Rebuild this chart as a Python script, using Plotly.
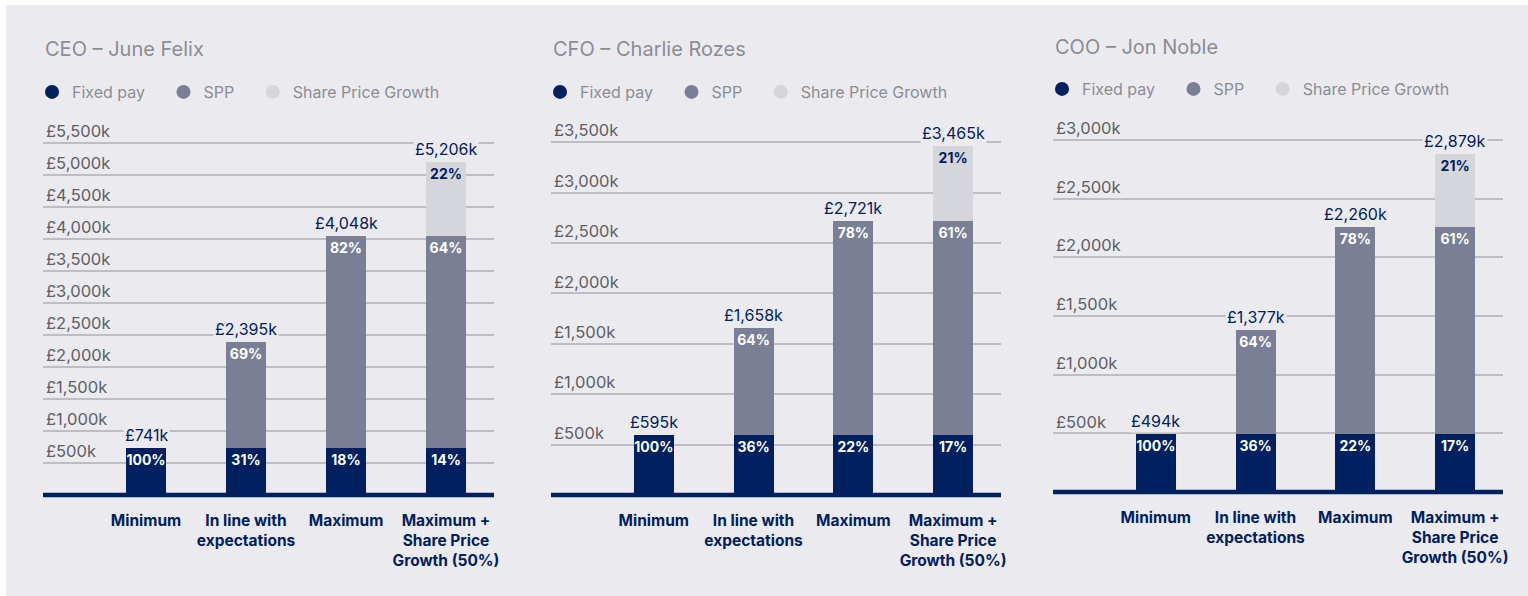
import plotly.graph_objects as go

# ---------------- data ----------------
categories = ["Minimum", "In line with<br>expectations", "Maximum", "Maximum +<br>Share Price<br>Growth (50%)"]
series_names = ["Fixed pay", "SPP", "Share Price Growth"]

ceo_title = "CEO – June Felix"
ceo_fixed = [741, 741, 741, 741]
ceo_spp = [0, 1654, 3307, 3307]
ceo_spg = [0, 0, 0, 1158]
ceo_totals = [741, 2395, 4048, 5206]
ceo_fixed_pct = ["100%", "31%", "18%", "14%"]
ceo_spp_pct = ["", "69%", "82%", "64%"]
ceo_spg_pct = ["", "", "", "22%"]
ceo_ticks = [500, 1000, 1500, 2000, 2500, 3000, 3500, 4000, 4500, 5000, 5500]

cfo_title = "CFO – Charlie Rozes"
cfo_fixed = [595, 595, 595, 595]
cfo_spp = [0, 1063, 2126, 2126]
cfo_spg = [0, 0, 0, 744]
cfo_totals = [595, 1658, 2721, 3465]
cfo_fixed_pct = ["100%", "36%", "22%", "17%"]
cfo_spp_pct = ["", "64%", "78%", "61%"]
cfo_spg_pct = ["", "", "", "21%"]
cfo_ticks = [500, 1000, 1500, 2000, 2500, 3000, 3500]

coo_title = "COO – Jon Noble"
coo_fixed = [494, 494, 494, 494]
coo_spp = [0, 883, 1766, 1766]
coo_spg = [0, 0, 0, 619]
coo_totals = [494, 1377, 2260, 2879]
coo_fixed_pct = ["100%", "36%", "22%", "17%"]
coo_spp_pct = ["", "64%", "78%", "61%"]
coo_spg_pct = ["", "", "", "21%"]
coo_ticks = [500, 1000, 1500, 2000, 2500, 3000]

# ---------------- style ----------------
W, H = 1528, 596
NAVY = "#00205F"
SPP_C = "#7B7F96"
SPG_C = "#D4D6DB"
BG = "#EBEBEF"
GRID = "#BDBDC3"
TITLE_C = "#8C8C95"
TICK_C = "#5E5E66"
FONT = "Inter"
PAD = "\u00a0\u00a0\u00a0"

colors = [NAVY, SPP_C, SPG_C]
pct_colors = ["white", "white", NAVY]

panels = [
    dict(title=ceo_title, stacks=[ceo_fixed, ceo_spp, ceo_spg], pcts=[ceo_fixed_pct, ceo_spp_pct, ceo_spg_pct],
         totals=ceo_totals, ticks=ceo_ticks, x0=43, x1=494, ytop=136, ybot=495, pxk=352.3 / 5500,
         title_y=49, legend_y=92),
    dict(title=cfo_title, stacks=[cfo_fixed, cfo_spp, cfo_spg], pcts=[cfo_fixed_pct, cfo_spp_pct, cfo_spg_pct],
         totals=cfo_totals, ticks=cfo_ticks, x0=551, x1=1001, ytop=136, ybot=495, pxk=50.4 / 500,
         title_y=49, legend_y=92),
    dict(title=coo_title, stacks=[coo_fixed, coo_spp, coo_spg], pcts=[coo_fixed_pct, coo_spp_pct, coo_spg_pct],
         totals=coo_totals, ticks=coo_ticks, x0=1053, x1=1503, ytop=134, ybot=492, pxk=58.7 / 500,
         title_y=47, legend_y=89),
]

fig = go.Figure()
layout = dict(
    width=W, height=H, margin=dict(l=0, r=0, t=0, b=0, autoexpand=False),
    paper_bgcolor="white", plot_bgcolor="rgba(0,0,0,0)",
    barmode="stack", bargap=0.6, showlegend=True,
    font=dict(family=FONT),
    shapes=[dict(type="rect", xref="paper", yref="paper", x0=6 / W, x1=1, y0=0, y1=1 - 5 / H,
                 fillcolor=BG, line=dict(width=0), layer="below")],
    annotations=[],
)

for i, p in enumerate(panels):
    n = "" if i == 0 else str(i + 1)
    xa, ya = "x" + n, "y" + n
    lg = "legend" + n
    for s in range(3):
        fig.add_trace(go.Bar(
            x=categories, y=p["stacks"][s], name=series_names[s], xaxis=xa, yaxis=ya,
            marker=dict(color=colors[s], line=dict(width=0)), width=0.4,
            text=p["pcts"][s], textposition="inside", insidetextanchor="end", textangle=0,
            constraintext="none",
            textfont=dict(family=FONT, size=14, color=pct_colors[s], weight="bold"),
            showlegend=False, hoverinfo="skip"))
    for s in range(3):
        fig.add_trace(go.Scatter(
            x=[None], y=[None], mode="markers", name=series_names[s] + PAD, xaxis=xa, yaxis=ya,
            marker=dict(color=colors[s], size=14, symbol="circle"), legend=lg, showlegend=True))

    yrange = (p["ybot"] - p["ytop"]) / p["pxk"]
    dom_x = [p["x0"] / W, p["x1"] / W]
    dom_y = [1 - p["ybot"] / H, 1 - p["ytop"] / H]
    layout["xaxis" + n] = dict(
        domain=dom_x, anchor=ya, type="category",
        categoryorder="array", categoryarray=categories, range=[-1.03, 3.48],
        showgrid=False, showline=False, zeroline=False, ticks="",
        tickfont=dict(family=FONT, size=15.5, color=NAVY, weight="bold"), ticklabelstandoff=14)
    layout["yaxis" + n] = dict(
        domain=dom_y, anchor=xa, range=[0, yrange],
        tickvals=p["ticks"], ticktext=[f"£{v:,}k" for v in p["ticks"]],
        ticklabelposition="inside top", ticklabeloverflow="allow",
        showgrid=True, gridcolor=GRID, gridwidth=1.5, zeroline=False, showline=False, ticks="",
        tickfont=dict(family=FONT, size=16.5, color=TICK_C))
    layout[lg] = dict(
        orientation="h", x=(p["x0"] - 11) / W, xanchor="left", y=1 - p["legend_y"] / H, yanchor="middle",
        traceorder="normal",
        bgcolor="rgba(0,0,0,0)", font=dict(family=FONT, size=16, color=TITLE_C), itemclick=False)
    # baseline along the bottom of each subplot's domain (unclipped)
    layout["shapes"].append(dict(type="line", xref="paper", yref="paper",
                                 x0=dom_x[0], x1=dom_x[1], y0=dom_y[0], y1=dom_y[0],
                                 line=dict(color=NAVY, width=4.5), layer="above"))
    layout["annotations"].append(dict(
        text=p["title"], xref="paper", yref="paper", x=p["x0"] / W, y=1 - p["title_y"] / H,
        xanchor="left", yanchor="middle", showarrow=False,
        font=dict(family=FONT, size=20, color=TITLE_C)))
    for c, t in zip(categories, p["totals"]):
        layout["annotations"].append(dict(
            text=f"£{t:,}k", x=c, y=t, xref=xa, yref=ya, xanchor="center", yanchor="bottom",
            showarrow=False, bgcolor=BG, borderpad=1, yshift=1,
            font=dict(family=FONT, size=16, color=NAVY)))

fig.update_layout(**layout)
fig.write_html("out.html")
